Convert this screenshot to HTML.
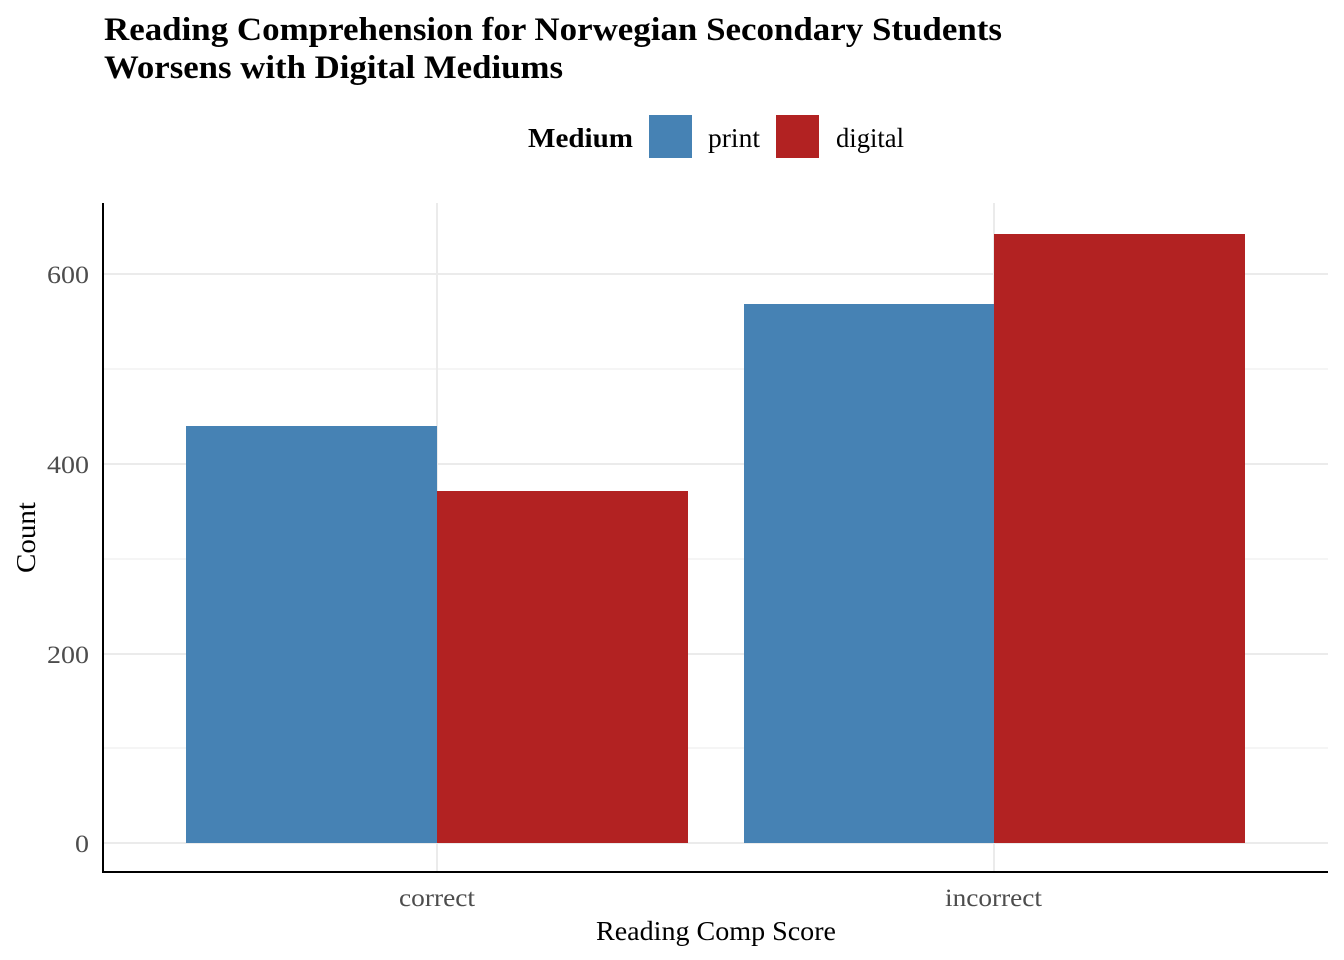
<!DOCTYPE html>
<html><head><meta charset="utf-8"><style>
html,body{margin:0;padding:0;background:#fff;}
svg{display:block;font-family:"Liberation Serif",serif;}
</style></head><body>
<svg width="1344" height="960" viewBox="0 0 1344 960" xmlns="http://www.w3.org/2000/svg">
<rect width="1344" height="960" fill="#fff"/>
<text x="104" y="40" font-size="33" font-weight="bold" fill="#000" textLength="898" lengthAdjust="spacingAndGlyphs">Reading Comprehension for Norwegian Secondary Students</text>
<text x="104" y="78" font-size="33" font-weight="bold" fill="#000" textLength="459" lengthAdjust="spacingAndGlyphs">Worsens with Digital Mediums</text>
<text x="528" y="147" font-size="27" font-weight="bold" fill="#000" textLength="105" lengthAdjust="spacingAndGlyphs">Medium</text>
<rect x="649" y="115" width="43" height="43" fill="#4682b4"/>
<text x="708" y="147" font-size="27" fill="#000" textLength="52" lengthAdjust="spacingAndGlyphs">print</text>
<rect x="776" y="115" width="43" height="43" fill="#b22222"/>
<text x="836" y="147" font-size="27" fill="#000" textLength="68" lengthAdjust="spacingAndGlyphs">digital</text>
<g stroke="#ebebeb" stroke-width="1">
<line x1="103" x2="1328" y1="748" y2="748"/>
<line x1="103" x2="1328" y1="559" y2="559"/>
<line x1="103" x2="1328" y1="369" y2="369"/>
</g>
<g stroke="#ebebeb" stroke-width="2">
<line x1="103" x2="1328" y1="843" y2="843"/>
<line x1="103" x2="1328" y1="654" y2="654"/>
<line x1="103" x2="1328" y1="464" y2="464"/>
<line x1="103" x2="1328" y1="274" y2="274"/>
<line x1="437" x2="437" y1="203" y2="872"/>
<line x1="994" x2="994" y1="203" y2="872"/>
</g>
<rect x="186" y="426" width="251" height="417" fill="#4682b4"/>
<rect x="437" y="491" width="251" height="352" fill="#b22222"/>
<rect x="744" y="304" width="250" height="539" fill="#4682b4"/>
<rect x="994" y="234" width="251" height="609" fill="#b22222"/>
<line x1="103" x2="103" y1="203" y2="873" stroke="#000" stroke-width="2"/>
<line x1="102" x2="1328" y1="872" y2="872" stroke="#000" stroke-width="2"/>
<g font-size="25" fill="#4d4d4d">
<text x="75" y="852" textLength="14" lengthAdjust="spacingAndGlyphs">0</text>
<text x="47" y="663" textLength="42" lengthAdjust="spacingAndGlyphs">200</text>
<text x="47" y="473" textLength="42" lengthAdjust="spacingAndGlyphs">400</text>
<text x="47" y="283" textLength="42" lengthAdjust="spacingAndGlyphs">600</text>
<text x="399" y="906" textLength="76" lengthAdjust="spacingAndGlyphs">correct</text>
<text x="945" y="906" textLength="97" lengthAdjust="spacingAndGlyphs">incorrect</text>
</g>
<text x="596" y="940" font-size="27" fill="#000" textLength="240" lengthAdjust="spacingAndGlyphs">Reading Comp Score</text>
<text transform="translate(35,573) rotate(-90)" font-size="27" fill="#000" textLength="71" lengthAdjust="spacingAndGlyphs">Count</text>
</svg>
</body></html>
